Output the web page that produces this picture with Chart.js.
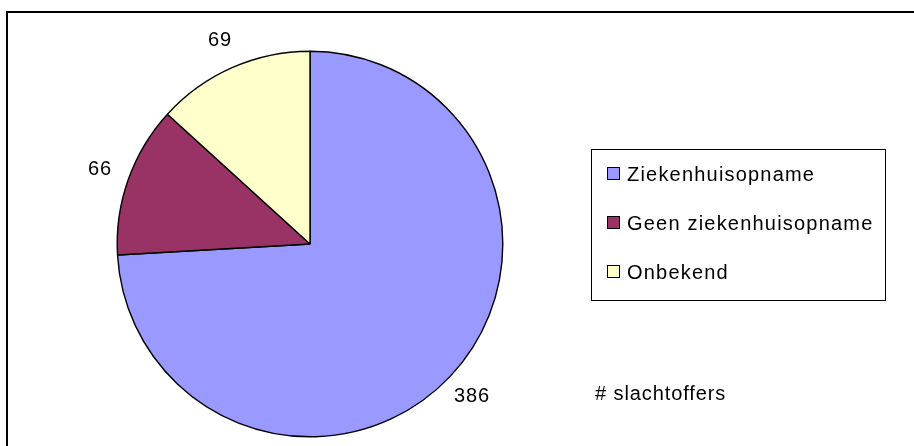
<!DOCTYPE html>
<html>
<head>
<meta charset="utf-8">
<script src="https://cdn.jsdelivr.net/npm/chart.js@4"></script>
<style>
  html, body { margin: 0; padding: 0; background: #fff; }
  #wrap { width: 914px; height: 446px; }
</style>
</head>
<body>
<div id="wrap"><canvas id="pieChart" width="914" height="446"></canvas></div>
<script>
// data
const categories = ['Ziekenhuisopname', 'Geen ziekenhuisopname', 'Onbekend'];
const victims = [386, 66, 69];
const seriesLabel = '# slachtoffers';

const sliceColors = ['#9999FF', '#993366', '#FFFFCC'];
const FONT = "20px 'Liberation Sans', Arial, sans-serif";

function setSpacing(ctx, px) {
    if ('letterSpacing' in ctx) ctx.letterSpacing = px;
}

// outer frame (runs off the right and bottom edge like the original)
const framePlugin = {
    id: 'frame',
    beforeDraw(chart) {
        const ctx = chart.ctx;
        ctx.save();
        ctx.fillStyle = '#fff';
        ctx.fillRect(0, 0, chart.width, chart.height);
        ctx.strokeStyle = '#000';
        ctx.lineWidth = 2;
        ctx.strokeRect(7, 12, chart.width + 20, chart.height + 20);
        ctx.restore();
    }
};

// value labels outside each slice
const valueLabels = {
    id: 'valueLabels',
    afterDatasetsDraw(chart) {
        const ctx = chart.ctx;
        const meta = chart.getDatasetMeta(0);
        ctx.save();
        ctx.font = FONT;
        setSpacing(ctx, '0.8px');
        ctx.fillStyle = '#000';
        ctx.textAlign = 'center';
        ctx.textBaseline = 'middle';
        meta.data.forEach((arc, i) => {
            const p = arc.getProps(['x', 'y', 'startAngle', 'endAngle', 'outerRadius'], true);
            const mid = (p.startAngle + p.endAngle) / 2;
            const dist = p.outerRadius + 30;
            ctx.fillText(String(chart.data.datasets[0].data[i]),
                p.x + Math.cos(mid) * dist, p.y + Math.sin(mid) * dist);
        });
        ctx.restore();
    }
};

// boxed legend on the right + series caption
const boxLegend = {
    id: 'boxLegend',
    afterDraw(chart) {
        const ctx = chart.ctx;
        const ds = chart.data.datasets[0];
        ctx.save();
        ctx.strokeStyle = '#000';
        ctx.lineWidth = 1;
        ctx.strokeRect(591.5, 149.5, 294, 151);

        ctx.font = FONT;
        setSpacing(ctx, '1.2px');
        ctx.textAlign = 'left';
        ctx.textBaseline = 'middle';
        chart.data.labels.forEach((lbl, i) => {
            const yc = 174 + i * 49;
            ctx.fillStyle = ds.backgroundColor[i];
            ctx.fillRect(607.5, yc - 6.5, 12, 12);
            ctx.strokeRect(607.5, yc - 6.5, 12, 12);
            ctx.fillStyle = '#000';
            ctx.fillText(lbl, 627, yc + 1);
        });

        setSpacing(ctx, '0.9px');
        ctx.fillText(ds.label, 595, 394);
        ctx.restore();
    }
};

Chart.defaults.font.family = "'Liberation Sans', Arial, sans-serif";

new Chart(document.getElementById('pieChart'), {
    type: 'pie',
    data: {
        labels: categories,
        datasets: [{
            label: seriesLabel,
            data: victims,
            backgroundColor: sliceColors,
            borderColor: '#000',
            borderWidth: 1.4
        }]
    },
    options: {
        responsive: false,
        animation: false,
        devicePixelRatio: 1,
        layout: { padding: { left: 116.5, right: 410.5, top: 50.5, bottom: 8.5 } },
        plugins: {
            legend: { display: false },
            tooltip: { enabled: false },
            title: { display: false }
        }
    },
    plugins: [framePlugin, valueLabels, boxLegend]
});
</script>
</body>
</html>
